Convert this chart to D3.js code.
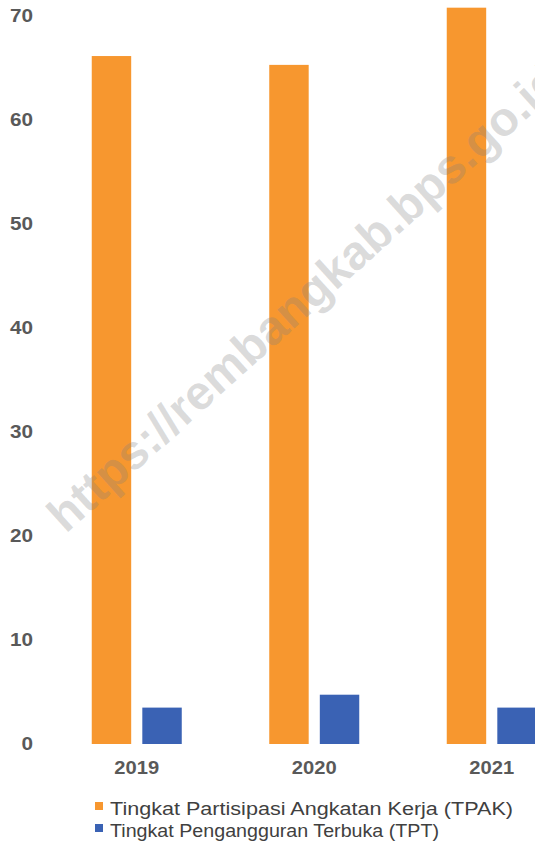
<!DOCTYPE html>
<html>
<head>
<meta charset="utf-8">
<script src="https://cdn.jsdelivr.net/npm/d3@7"></script>
<style>
  html, body { margin: 0; padding: 0; background: #fff; }
  svg { display: block; font-family: "Liberation Sans", Arial, sans-serif; }
</style>
</head>
<body>
<svg id="chart" width="535" height="855"></svg>
<script>
const years = ["2019", "2020", "2021"];
const seriesNames = ["Tingkat Partisipasi Angkatan Kerja (TPAK)", "Tingkat Pengangguran Terbuka (TPT)"];
const tpak = [66.15, 65.3, 70.8];
const tpt = [3.5, 4.74, 3.5];
const yTicks = [0, 10, 20, 30, 40, 50, 60, 70];
const colors = ["#F7972F", "#3A62B4"];
const watermark = "https://rembangkab.bps.go.id";

const seriesValues = [tpak, tpt];
const legendWidths = [403, 329];
const svg = d3.select("#chart");

const x0 = d3.scaleBand().domain(years).range([48, 580.5]).padding(0);
const x1 = d3.scaleBand().domain(seriesNames).range([0, 90]).paddingInner(0.22);
const y = d3.scaleLinear().domain([0, 70]).range([744, 16]);

// y axis labels
const yAxis = d3.axisLeft(y).tickValues(yTicks).tickSize(0).tickPadding(0).tickFormat(d3.format("d"));
const ya = svg.append("g").attr("transform", "translate(33,0)").call(yAxis);
ya.select(".domain").remove();
ya.selectAll("text")
  .attr("font-family", "Liberation Sans, Arial, sans-serif")
  .attr("font-size", 18).attr("font-weight", "bold").attr("fill", "#595959")
  .attr("transform", "scale(1.15,1)");

// bars
const groups = svg.append("g").selectAll("g").data(years).join("g")
  .attr("transform", d => `translate(${x0(d) + x0.bandwidth() / 2 - 45},0)`);
groups.selectAll("rect")
  .data((d, i) => seriesNames.map((s, j) => ({ s, j, v: seriesValues[j][i] })))
  .join("rect")
  .attr("x", d => x1(d.s))
  .attr("width", x1.bandwidth())
  .attr("y", d => y(d.v))
  .attr("height", d => y(0) - y(d.v))
  .attr("fill", d => colors[d.j]);

// x axis labels
const xAxis = d3.axisBottom(x0).tickSize(0).tickPadding(0);
const xa = svg.append("g").attr("transform", "translate(0,761)").call(xAxis);
xa.select(".domain").remove();
xa.selectAll("text")
  .attr("font-family", "Liberation Sans, Arial, sans-serif")
  .attr("font-size", 18).attr("font-weight", "bold").attr("fill", "#595959")
  .attr("transform", "scale(1.12,1)");

// legend
const legend = svg.append("g").selectAll("g").data(seriesNames).join("g")
  .attr("transform", (d, i) => `translate(95,${815 + i * 22})`);
legend.append("rect").attr("x", 0).attr("y", -13).attr("width", 8).attr("height", 8)
  .attr("fill", (d, i) => colors[i]);
legend.append("text").attr("x", 15).attr("y", 0)
  .attr("font-size", 17.5).attr("fill", "#404040")
  .attr("textLength", (d, i) => legendWidths[i]).attr("lengthAdjust", "spacingAndGlyphs")
  .text(d => d);

// watermark
svg.append("text")
  .attr("transform", "translate(307,300) rotate(-42)")
  .attr("text-anchor", "middle").attr("dominant-baseline", "middle")
  .attr("font-size", 48).attr("font-weight", "bold")
  .attr("fill", "#808080").attr("fill-opacity", 0.28)
  .text(watermark);
</script>
</body>
</html>
